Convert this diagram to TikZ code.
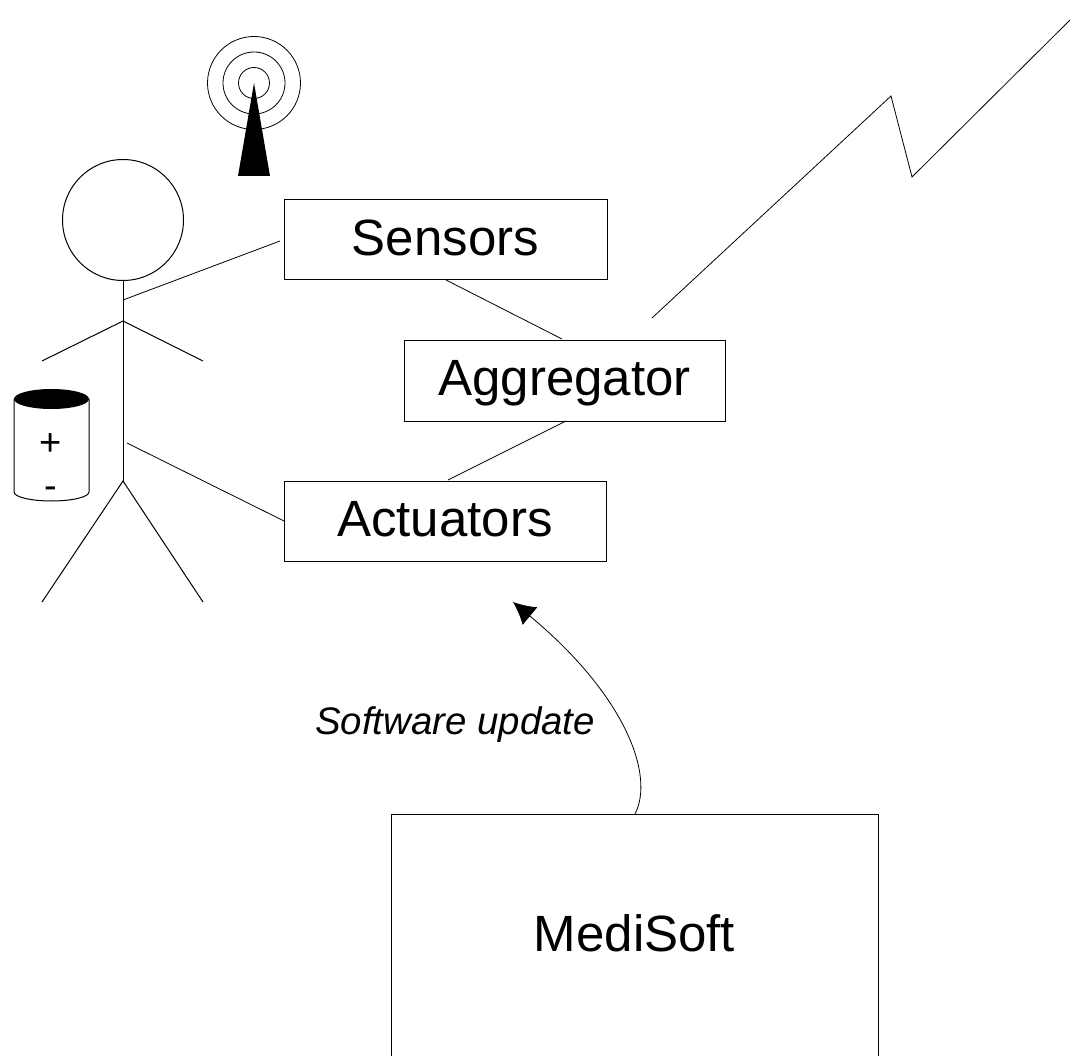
\documentclass[tikz,border=0pt]{standalone}
\usepackage{fontspec}
\setmainfont{Liberation Sans}
\usetikzlibrary{arrows.meta}
\tikzset{
  ln/.style={draw=black,line width=1pt},
  thin line/.style={draw=black,line width=0.8pt},
  box/.style={draw=black,line width=1pt,fill=white,inner sep=0pt,text depth=5pt,font=\fontsize{51}{51}\selectfont},
  sym/.style={inner sep=0pt,font=\fontsize{38}{38}\selectfont}
}
\begin{document}
\begin{tikzpicture}[x=1pt,y=-1pt]
\path[use as bounding box,clip] (0,0) rectangle (1070,1056);
% antenna
\draw[thin line] (254,83) circle[radius=15.5];
\draw[thin line] (254,83) circle[radius=31];
\draw[thin line] (254,83) circle[radius=46.5];
\fill[black] (254,83) -- (270,176) -- (238,176) -- cycle;
% stick figure
\node[ln,circle,minimum size=121pt,inner sep=0pt] (head) at (123,220) {};
\coordinate (neck) at (123,321);
\coordinate (hip) at (123,481);
\coordinate (handL) at (42,361);
\coordinate (handR) at (203,361);
\coordinate (footL) at (42,602);
\coordinate (footR) at (203,602);
\draw[ln] (head.south) -- (hip);
\draw[ln] (handL) -- (neck) -- (handR);
\draw[ln] (footL) -- (hip) -- (footR);
% battery
\fill[black] (51.5,399) ellipse[x radius=37.5,y radius=10];
\draw[ln] (14,399) -- (14,492) arc[start angle=180,end angle=0,x radius=37.5,y radius=9] -- (89,399);
\node[sym] (plus) at (51,445) {+};
\node[sym] (minus) at (51,492.5) {-};
% boxes
\node[box,minimum width=323pt,minimum height=80pt] (sensors) at (445.5,240) {Sensors};
\node[box,minimum width=321pt,minimum height=81pt] (aggregator) at (564.5,380.5) {Aggregator};
\node[box,minimum width=322pt,minimum height=80pt] (actuators) at (445,521) {Actuators};
\node[box,text depth=8pt,minimum width=487pt,minimum height=246pt] (medisoft) at (634.5,937) {MediSoft};
% connectors
\coordinate (bodyA) at (123,300);
\coordinate (bodyB) at (127,443);
\coordinate (sA) at (280,241);
\coordinate (sB) at (446,280);
\coordinate (aA) at (562,339);
\coordinate (aB) at (566,421);
\coordinate (cA) at (448,480);
\coordinate (cB) at (284,521);
\draw[thin line] (bodyA) -- (sA);
\draw[thin line] (sB) -- (aA);
\draw[thin line] (aB) -- (cA);
\draw[thin line] (bodyB) -- (cB);
% lightning
\coordinate (z0) at (652,318);
\coordinate (z1) at (891,96);
\coordinate (z2) at (912,177);
\coordinate (z3) at (1070,20);
\draw[thin line] (z0) -- (z1) -- (z2) -- (z3);
% update arrow
\coordinate (updEnd) at (513,602);
\coordinate (updStart) at (635,814);
\draw[thin line,-{Latex[length=22pt,width=23pt]}] (updStart) .. controls (655,775) and (625,695) .. (updEnd);
\node[inner sep=0pt,font=\fontsize{38.4}{38.4}\selectfont\itshape] (updlabel) at (455,725) {Software update};
\end{tikzpicture}
\end{document}
